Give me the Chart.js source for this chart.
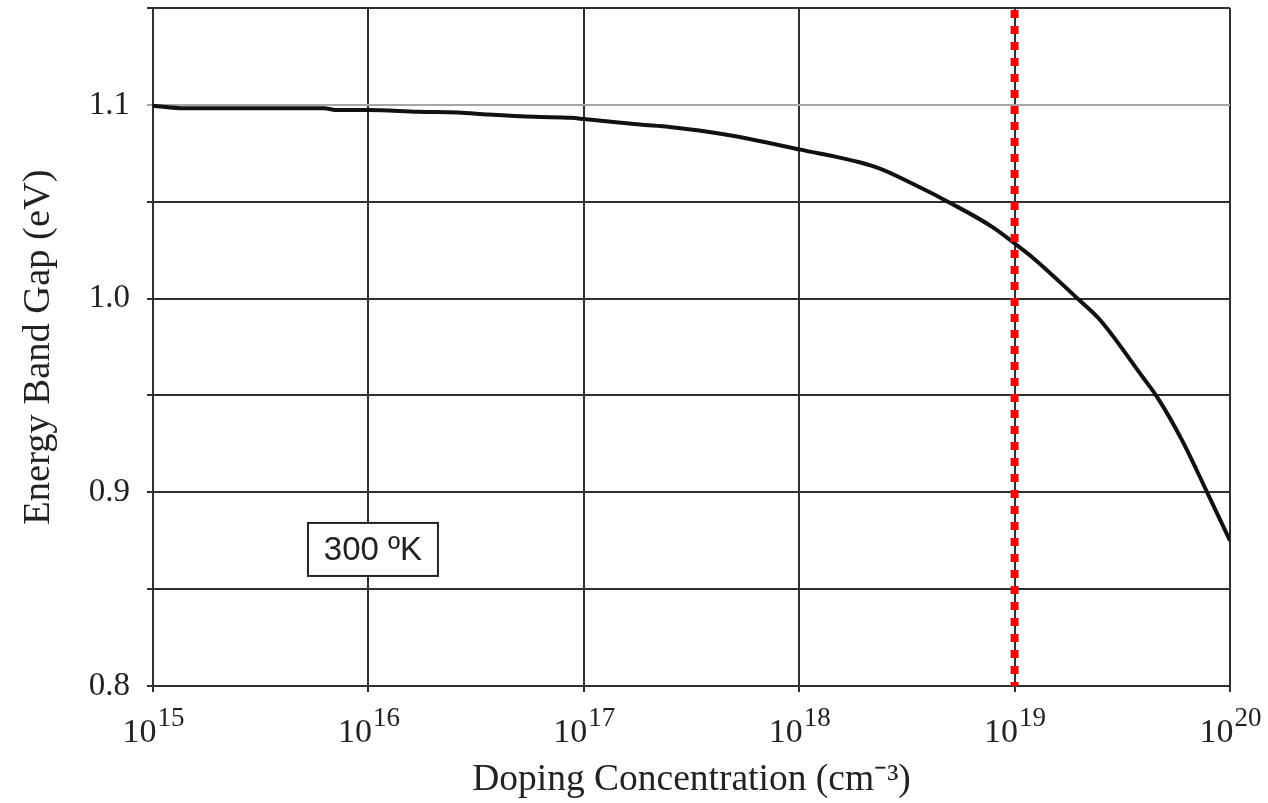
<!DOCTYPE html>
<html>
<head>
<meta charset="utf-8">
<title>Energy Band Gap vs Doping Concentration</title>
<script src="https://cdn.jsdelivr.net/npm/chart.js@4.4.1/dist/chart.umd.min.js"></script>
<style>
  html, body { margin: 0; padding: 0; background: #fff; }
  canvas { display: block; }
</style>
</head>
<body>
<canvas id="gapChart" width="1268" height="803"></canvas>
<script>
// doping concentration (cm^-3) and band gap (eV)
const concentration = [
  1e15, 1.4e15, 6.2e15, 7.2e15, 1e16, 1.7e16, 2.6e16, 3.6e16, 5.9e16, 8.7e16,
  1e17, 1.82e17, 2.5e17, 4.6e17, 1e18, 2.3e18, 3.4e18, 5.1e18, 7.9e18,
  1e19, 1.2e19, 2e19, 2.5e19, 3.9e19, 4.6e19, 6e19, 7.9e19, 1e20
];
const bandGap = [
  1.0995, 1.0982, 1.0982, 1.0973, 1.0973, 1.0964, 1.0960, 1.0950, 1.0938, 1.0933,
  1.0927, 1.0898, 1.0886, 1.0846, 1.0770, 1.0676, 1.0590, 1.0490, 1.0369,
  1.0285, 1.0216, 0.9991, 0.9888, 0.9600, 0.9490, 0.9267, 0.8991, 0.875
];

// reference doping level marked with the red dotted line
const markerConc = 1e19;
const gapRange = [0.8, 1.15];

// axis ticks
const decades = [1e15, 1e16, 1e17, 1e18, 1e19, 1e20];
const decadeExponents = ['15', '16', '17', '18', '19', '20'];
const yTickLabels = ['0.8', '0.9', '1.0', '1.1'];

// temperature note
const tempLabel = '300 ºK';
const tempAnchor = { x: 1.05e16, y: 0.8705 };

const serif = '"Liberation Serif", "Times New Roman", serif';
Chart.defaults.font.family = serif;
Chart.defaults.color = '#222';

const gridColor = '#303030';

// superscript decade labels (10^n) under the x axis
const decadeLabels = {
  id: 'decadeLabels',
  afterDraw(chart) {
    const { ctx, chartArea } = chart;
    const x = chart.scales.x;
    const baseY = chartArea.bottom + 56;
    ctx.save();
    ctx.fillStyle = '#222';
    ctx.textBaseline = 'alphabetic';
    ctx.textAlign = 'left';
    decades.forEach((d, i) => {
      const px = x.getPixelForValue(d);
      ctx.font = '34px ' + serif;
      const wb = ctx.measureText('10').width;
      ctx.font = '27px ' + serif;
      const ws = ctx.measureText(decadeExponents[i]).width;
      const start = px - (wb + ws) / 2;
      ctx.font = '34px ' + serif;
      ctx.fillText('10', start, baseY);
      ctx.font = '27px ' + serif;
      ctx.fillText(decadeExponents[i], start + wb + 1, baseY - 16);
    });
    ctx.restore();
  }
};

// boxed temperature label inside the plot
const tempBox = {
  id: 'tempBox',
  afterDatasetsDraw(chart) {
    const { ctx } = chart;
    const cx = chart.scales.x.getPixelForValue(tempAnchor.x);
    const cy = chart.scales.y.getPixelForValue(tempAnchor.y);
    const w = 130, h = 53;
    ctx.save();
    ctx.fillStyle = '#fff';
    ctx.strokeStyle = '#222';
    ctx.lineWidth = 2;
    ctx.fillRect(cx - w / 2, cy - h / 2, w, h);
    ctx.strokeRect(cx - w / 2, cy - h / 2, w, h);
    ctx.fillStyle = '#222';
    ctx.font = '33px "Liberation Sans", Arial, sans-serif';
    ctx.textAlign = 'center';
    ctx.textBaseline = 'middle';
    ctx.fillText(tempLabel, cx, cy + 1);
    ctx.restore();
  }
};

const ctx = document.getElementById('gapChart').getContext('2d');
new Chart(ctx, {
  type: 'line',
  data: {
    datasets: [
      {
        label: 'marker',
        data: [{ x: markerConc, y: gapRange[1] }, { x: markerConc, y: gapRange[0] }],
        borderColor: '#ff0000',
        borderWidth: 8,
        borderDash: [8, 8],
        borderDashOffset: 14,
        borderCapStyle: 'butt',
        pointRadius: 0,
        order: 0
      },
      {
        label: 'Eg',
        data: concentration.map((c, i) => ({ x: c, y: bandGap[i] })),
        borderColor: '#111',
        borderWidth: 4,
        pointRadius: 0,
        cubicInterpolationMode: 'monotone',
        order: 1
      }
    ]
  },
  options: {
    responsive: false,
    animation: false,
    layout: { padding: { top: 8, right: 38, left: 0, bottom: 0 } },
    plugins: {
      legend: { display: false },
      tooltip: { enabled: false }
    },
    scales: {
      x: {
        type: 'logarithmic',
        min: decades[0],
        max: decades[decades.length - 1],
        afterBuildTicks: (s) => { s.ticks = decades.map(v => ({ value: v })); },
        afterFit: (s) => { s.height = 117; s.paddingLeft = 0; s.paddingRight = 0; },
        ticks: { display: false },
        grid: { color: gridColor, lineWidth: 2, tickLength: 6 },
        border: { color: gridColor, width: 2 },
        title: {
          display: true,
          text: 'Doping Concentration (cm⁻³)',
          font: { size: 37.5 },
          color: '#222',
          padding: { top: 0, bottom: 0 }
        }
      },
      y: {
        min: gapRange[0],
        max: gapRange[1],
        afterFit: (s) => { s.width = 153; s.paddingTop = 0; s.paddingBottom = 0; },
        ticks: {
          stepSize: 0.05,
          padding: 17,
          font: { size: 33 },
          color: '#222',
          callback: (v) => {
            const t = Number(v).toFixed(1);
            return (Math.abs(v - Number(t)) < 1e-6 && yTickLabels.includes(t)) ? t : '';
          }
        },
        grid: {
          color: (c) => (c.tick && Math.abs(c.tick.value - 1.1) < 1e-6) ? '#a6a6a6' : gridColor,
          lineWidth: 2,
          tickLength: 6
        },
        border: { color: gridColor, width: 2 },
        title: {
          display: true,
          text: 'Energy Band Gap (eV)',
          font: { size: 38.5 },
          color: '#222',
          padding: { top: 16, bottom: 0 }
        }
      }
    }
  },
  plugins: [decadeLabels, tempBox]
});
</script>
</body>
</html>
